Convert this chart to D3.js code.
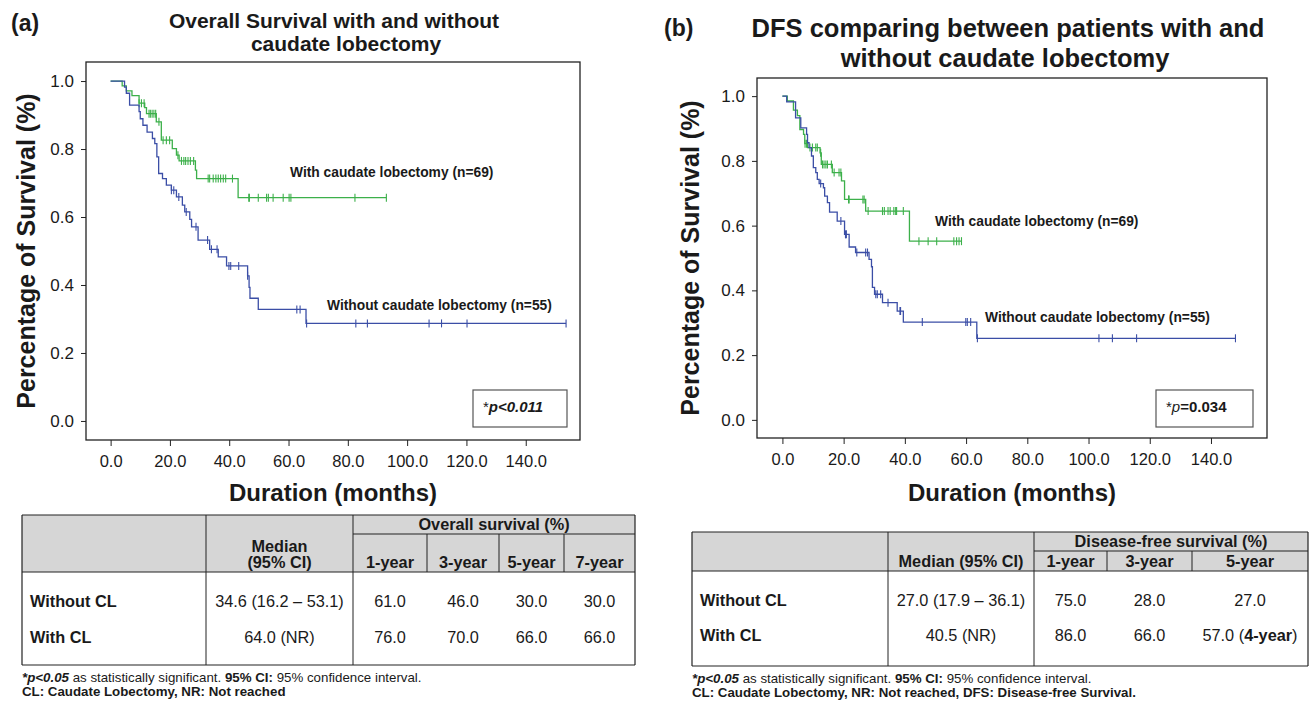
<!DOCTYPE html>
<html>
<head>
<meta charset="utf-8">
<script src="https://cdn.jsdelivr.net/npm/d3@7"></script>
<style>
  body { margin: 0; background: #fff; }
  svg text { font-family: "Liberation Sans", Arial, Helvetica, sans-serif; fill: #1a1a1a; }
</style>
</head>
<body>
<svg id="chart" width="1309" height="701"></svg>
<script>
// ---- data ----
const xTicks = [0, 20, 40, 60, 80, 100, 120, 140];
const yTicks = [0, 0.2, 0.4, 0.6, 0.8, 1.0];

// (a) overall survival: [month, survival after the drop]
const osWithSteps = [[0, 1], [3.9, 0.986], [5.3, 0.971], [7.2, 0.957], [9.6, 0.935], [11.5, 0.922], [12.1, 0.904],
  [15.4, 0.88], [17.1, 0.826], [20.8, 0.801], [22.2, 0.782], [23.1, 0.765], [28.6, 0.738], [29.0, 0.713], [43.0, 0.657]];
const osWithCensored = [9.6, 10.4, 11.3, 12.95, 13.4, 14.0, 14.6, 15.2, 16.3, 17.7, 18.8, 19.9, 22.7, 23.9, 24.7, 25.3,
  26.1, 26.9, 28.0, 32.9, 33.4, 34.6, 35.5, 36.3, 37.1, 38.0, 38.8, 41.1, 46.6, 46.8, 49.8, 52.6, 53.2, 54.8, 58.2,
  60.2, 60.8, 82.4, 93.0];
const osWithoutSteps = [[0, 1], [4.7, 0.982], [5.3, 0.964], [6.4, 0.929], [9.6, 0.91], [10.0, 0.889], [10.9, 0.87],
  [12.3, 0.85], [14.1, 0.831], [14.9, 0.816], [15.6, 0.777], [16.2, 0.728], [17.5, 0.713], [18.8, 0.694], [20.5, 0.679],
  [22.2, 0.659], [24.2, 0.635], [25.0, 0.615], [26.7, 0.593], [27.3, 0.571], [29.5, 0.532], [33.4, 0.505], [36.3, 0.483],
  [39.1, 0.456], [46.2, 0.427], [46.7, 0.393], [47.0, 0.361], [49.8, 0.328], [65.9, 0.287]];
const osWithoutCensored = [20.5, 21.3, 23.0, 25.5, 28.8, 32.7, 34.0, 35.9, 39.9, 40.5, 43.2, 46.2, 62.8, 63.9, 66.1,
  82.7, 86.6, 107.4, 111.6, 120.2, 153.6];

// (b) disease-free survival
const dfsWithSteps = [[0, 1], [1.6, 0.985], [3.6, 0.957], [4.9, 0.94], [5.7, 0.897], [6.9, 0.882], [7.3, 0.853],
  [8.2, 0.841], [12.3, 0.825], [12.7, 0.789], [16.3, 0.764], [19.3, 0.738], [20.3, 0.681], [27.2, 0.645], [41.5, 0.552]];
const dfsWithCensored = [7.4, 7.9, 9.0, 9.8, 10.9, 11.4, 12.5, 13.1, 13.6, 14.2, 14.7, 16.0, 16.9, 18.5, 19.1, 21.6,
  21.8, 26.3, 26.7, 28.0, 32.7, 33.3, 34.5, 35.2, 36.4, 37.0, 37.3, 39.5, 44.6, 47.6, 50.4, 56.0, 56.9, 57.7, 58.5];
const dfsWithoutSteps = [[0, 1], [1.4, 0.982], [4.3, 0.933], [6.0, 0.902], [7.9, 0.882], [8.2, 0.856], [8.7, 0.841],
  [9.5, 0.815], [10.1, 0.779], [10.9, 0.764], [11.4, 0.743], [12.0, 0.73], [13.4, 0.717], [13.8, 0.691], [14.7, 0.671],
  [15.4, 0.642], [17.9, 0.614], [20.3, 0.573], [21.8, 0.534], [23.9, 0.517], [28.3, 0.496], [29.1, 0.473], [29.4, 0.409],
  [30.1, 0.388], [32.7, 0.362], [37.5, 0.336], [39.5, 0.302], [63.5, 0.252]];
const dfsWithoutCensored = [12.5, 19.1, 20.6, 20.9, 24.3, 27.2, 27.8, 30.5, 31.0, 32.1, 34.5, 38.4, 38.6, 45.7, 59.9,
  60.4, 61.5, 63.7, 103.4, 107.8, 115.7, 148.0];

// tables
const osHeaderYears = ['1-year', '3-year', '5-year', '7-year'];
const osRowLabels = ['Without CL', 'With CL'];
const osMedians = ['34.6 (16.2 – 53.1)', '64.0 (NR)'];
const osRates = [['61.0', '46.0', '30.0', '30.0'], ['76.0', '70.0', '66.0', '66.0']];

const dfsHeaderYears = ['1-year', '3-year', '5-year'];
const dfsRowLabels = ['Without CL', 'With CL'];
const dfsMedians = ['27.0 (17.9 – 36.1)', '40.5 (NR)'];
const dfsRates = [['75.0', '28.0', '27.0'], ['86.0', '66.0', '57.0']];

const green = '#3cb04a';
const blue = '#3b4ea6';

const svg = d3.select('#chart');

function survivalAt(steps, t) {
  let s = steps[0][1];
  for (const [st, sv] of steps) { if (st <= t) s = sv; }
  return s;
}

function drawPanel(cfg) {
  const g = svg.append('g');
  const x = d3.scaleLinear().domain([-8.3, 158.3]).range([cfg.left, cfg.right]);
  const y = d3.scaleLinear().domain([-0.056, 1.056]).range([cfg.bottom, cfg.top]);

  g.append('rect')
    .attr('x', cfg.left).attr('y', cfg.top)
    .attr('width', cfg.right - cfg.left).attr('height', cfg.bottom - cfg.top)
    .attr('fill', 'none').attr('stroke', '#222').attr('stroke-width', 1.3);

  const yAxis = g.append('g')
    .attr('transform', `translate(${cfg.left},0)`)
    .call(d3.axisLeft(y).tickValues(yTicks).tickFormat(d3.format('.1f')).tickSize(5).tickPadding(7));
  yAxis.select('.domain').remove();
  yAxis.selectAll('text').style('font-size', '17px').attr('fill', '#1a1a1a');
  yAxis.selectAll('line').attr('stroke', '#222');

  const xAxis = g.append('g')
    .attr('transform', `translate(0,${cfg.bottom})`)
    .call(d3.axisBottom(x).tickValues(xTicks).tickFormat(d3.format('.1f')).tickSize(6).tickPadding(9));
  xAxis.select('.domain').remove();
  xAxis.selectAll('text').style('font-size', '16.5px').attr('fill', '#1a1a1a');
  xAxis.selectAll('line').attr('stroke', '#222');

  const line = d3.line().x(d => x(d[0])).y(d => y(d[1])).curve(d3.curveStepAfter);

  cfg.series.forEach(s => {
    const last = s.steps[s.steps.length - 1][1];
    const pts = s.steps.concat([[s.end, last]]);
    g.append('path').datum(pts)
      .attr('d', line).attr('fill', 'none')
      .attr('stroke', s.color).attr('stroke-width', 1.3);
    g.selectAll(null).data(s.censored).enter().append('line')
      .attr('x1', d => x(d)).attr('x2', d => x(d))
      .attr('y1', d => y(survivalAt(s.steps, d)) - 4)
      .attr('y2', d => y(survivalAt(s.steps, d)) + 4)
      .attr('stroke', s.color).attr('stroke-width', 1.1);
    g.append('text')
      .attr('x', s.labelX).attr('y', s.labelY)
      .style('font-size', '13.8px').style('font-weight', 'bold')
      .text(s.label);
  });

  // p-value box
  g.append('rect')
    .attr('x', cfg.pBox[0]).attr('y', cfg.pBox[1]).attr('width', cfg.pBox[2]).attr('height', cfg.pBox[3])
    .attr('fill', '#fff').attr('stroke', '#555').attr('stroke-width', 1.2);
  const pt = g.append('text')
    .attr('x', cfg.pBox[0] + 10).attr('y', cfg.pBox[1] + 22)
    .style('font-size', '15px');
  cfg.pText.forEach(p => {
    pt.append('tspan').text(p.t)
      .style('font-weight', p.b ? 'bold' : 'normal')
      .style('font-style', p.i ? 'italic' : 'normal');
  });

  // axis titles
  g.append('text')
    .attr('transform', `translate(${cfg.yLabelX},${(cfg.top + cfg.bottom) / 2}) rotate(-90)`)
    .attr('text-anchor', 'middle')
    .style('font-size', cfg.yLabelSize + 'px').style('font-weight', 'bold')
    .text('Percentage of Survival (%)');
  g.append('text')
    .attr('x', (cfg.left + cfg.right) / 2).attr('y', 501)
    .attr('text-anchor', 'middle')
    .style('font-size', '24px').style('font-weight', 'bold')
    .text('Duration (months)');

  // panel tag + title
  g.append('text').attr('x', cfg.tagX).attr('y', cfg.tagY)
    .style('font-size', '23px').style('font-weight', 'bold').text(cfg.tag);
  cfg.title.forEach((t, i) => {
    g.append('text')
      .attr('x', cfg.titleX[i]).attr('y', cfg.titleY + i * cfg.titleGap)
      .attr('text-anchor', 'middle')
      .style('font-size', cfg.titleSize + 'px').style('font-weight', 'bold')
      .text(t);
  });
}

drawPanel({
  left: 86, right: 580, top: 62, bottom: 440,
  tag: '(a)', tagX: 11, tagY: 31,
  title: ['Overall Survival with and without', 'caudate lobectomy'],
  titleX: [334, 346], titleY: 27.5, titleGap: 23.5, titleSize: 21,
  yLabelX: 35, yLabelSize: 25,
  pBox: [473, 390, 94, 37],
  pText: [{ t: '*', b: false, i: false }, { t: 'p<0.011', b: true, i: true }],
  series: [
    { steps: osWithSteps, censored: osWithCensored, end: 93.0, color: green,
      label: 'With caudate lobectomy (n=69)', labelX: 290, labelY: 177 },
    { steps: osWithoutSteps, censored: osWithoutCensored, end: 153.6, color: blue,
      label: 'Without caudate lobectomy (n=55)', labelX: 327, labelY: 310 }
  ]
});

drawPanel({
  left: 757, right: 1267, top: 78, bottom: 438,
  tag: '(b)', tagX: 664, tagY: 36,
  title: ['DFS comparing between patients with and', 'without caudate lobectomy'],
  titleX: [1008, 1005], titleY: 37, titleGap: 30, titleSize: 25.5,
  yLabelX: 699, yLabelSize: 25,
  pBox: [1156, 390, 97, 37],
  pText: [{ t: '*', b: false, i: false }, { t: 'p', b: false, i: true }, { t: '=0.034', b: true, i: false }],
  series: [
    { steps: dfsWithSteps, censored: dfsWithCensored, end: 58.5, color: green,
      label: 'With caudate lobectomy (n=69)', labelX: 935, labelY: 226 },
    { steps: dfsWithoutSteps, censored: dfsWithoutCensored, end: 148.0, color: blue,
      label: 'Without caudate lobectomy (n=55)', labelX: 985, labelY: 322 }
  ]
});

// ---- tables ----
function drawTable(t) {
  const g = svg.append('g');
  const L = t.cols[0], R = t.cols[t.cols.length - 1];
  g.append('rect').attr('x', L).attr('y', t.top).attr('width', R - L).attr('height', t.headBottom - t.top)
    .attr('fill', '#d6d6d6');
  const ln = (x1, y1, x2, y2, w) => g.append('line')
    .attr('x1', x1).attr('y1', y1).attr('x2', x2).attr('y2', y2)
    .attr('stroke', '#222').attr('stroke-width', w || 1);
  // outer box
  ln(L, t.top, R, t.top, 1.2); ln(L, t.bottom, R, t.bottom, 1.2);
  ln(L, t.top, L, t.bottom, 1.2); ln(R, t.top, R, t.bottom, 1.2);
  ln(L, t.headBottom, R, t.headBottom, 1.2);
  ln(t.cols[1], t.top, t.cols[1], t.bottom); ln(t.cols[2], t.top, t.cols[2], t.bottom);
  ln(t.cols[2], t.subLine, R, t.subLine);
  for (let i = 3; i < t.cols.length - 1; i++) ln(t.cols[i], t.subLine, t.cols[i], t.headBottom);

  const txt = (x, y, s, opts) => g.append('text').attr('x', x).attr('y', y)
    .attr('text-anchor', opts.anchor || 'middle')
    .style('font-size', '16.3px').style('font-weight', opts.bold ? 'bold' : 'normal').text(s);
  const mid = i => (t.cols[i] + t.cols[i + 1]) / 2;

  txt((t.cols[2] + R) / 2, t.groupY, t.group, { bold: true });
  t.medianHead.forEach((m, i) => txt(mid(1), t.medianY[i], m, { bold: true }));
  t.years.forEach((yv, i) => txt(mid(i + 2), t.yearY, yv, { bold: true }));
  t.labels.forEach((lab, r) => {
    txt(L + 8, t.rowY[r], lab, { bold: true, anchor: 'start' });
    txt(mid(1), t.rowY[r], t.medians[r], {});
    t.rates[r].forEach((v, c) => {
      const el = txt(mid(c + 2), t.rowY[r], v, {});
      if (t.note && t.note[0] === r && t.note[1] === c) {
        el.append('tspan').text(' (');
        el.append('tspan').style('font-weight', 'bold').text(t.note[2]);
        el.append('tspan').text(')');
      }
    });
  });

  const f1 = g.append('text').attr('x', L).attr('y', t.footY).style('font-size', '13.3px');
  f1.append('tspan').style('font-weight', 'bold').style('font-style', 'italic').text('*p<0.05');
  f1.append('tspan').text(' as statistically significant. ');
  f1.append('tspan').style('font-weight', 'bold').text('95% CI:');
  f1.append('tspan').text(' 95% confidence interval.');
  g.append('text').attr('x', L).attr('y', t.footY + 14).style('font-size', '13.3px').style('font-weight', 'bold')
    .text(t.foot2);
}

drawTable({
  cols: [22, 206, 353, 427, 499, 564, 635],
  top: 515, subLine: 534, headBottom: 572, bottom: 665,
  group: 'Overall survival (%)', groupY: 530,
  medianHead: ['Median', '(95% CI)'], medianY: [552, 568],
  years: osHeaderYears, yearY: 568,
  labels: osRowLabels, medians: osMedians, rates: osRates, rowY: [607, 643],
  footY: 682, foot2: 'CL: Caudate Lobectomy, NR: Not reached'
});

drawTable({
  cols: [692, 888, 1034, 1107, 1192, 1308],
  top: 532, subLine: 551, headBottom: 571, bottom: 666,
  group: 'Disease-free survival (%)', groupY: 547,
  medianHead: ['Median (95% CI)'], medianY: [567],
  years: dfsHeaderYears, yearY: 567,
  labels: dfsRowLabels, medians: dfsMedians, rates: dfsRates, rowY: [606, 641],
  note: [1, 2, '4-year'],
  footY: 683, foot2: 'CL: Caudate Lobectomy, NR: Not reached, DFS: Disease-free Survival.'
});
</script>
</body>
</html>
